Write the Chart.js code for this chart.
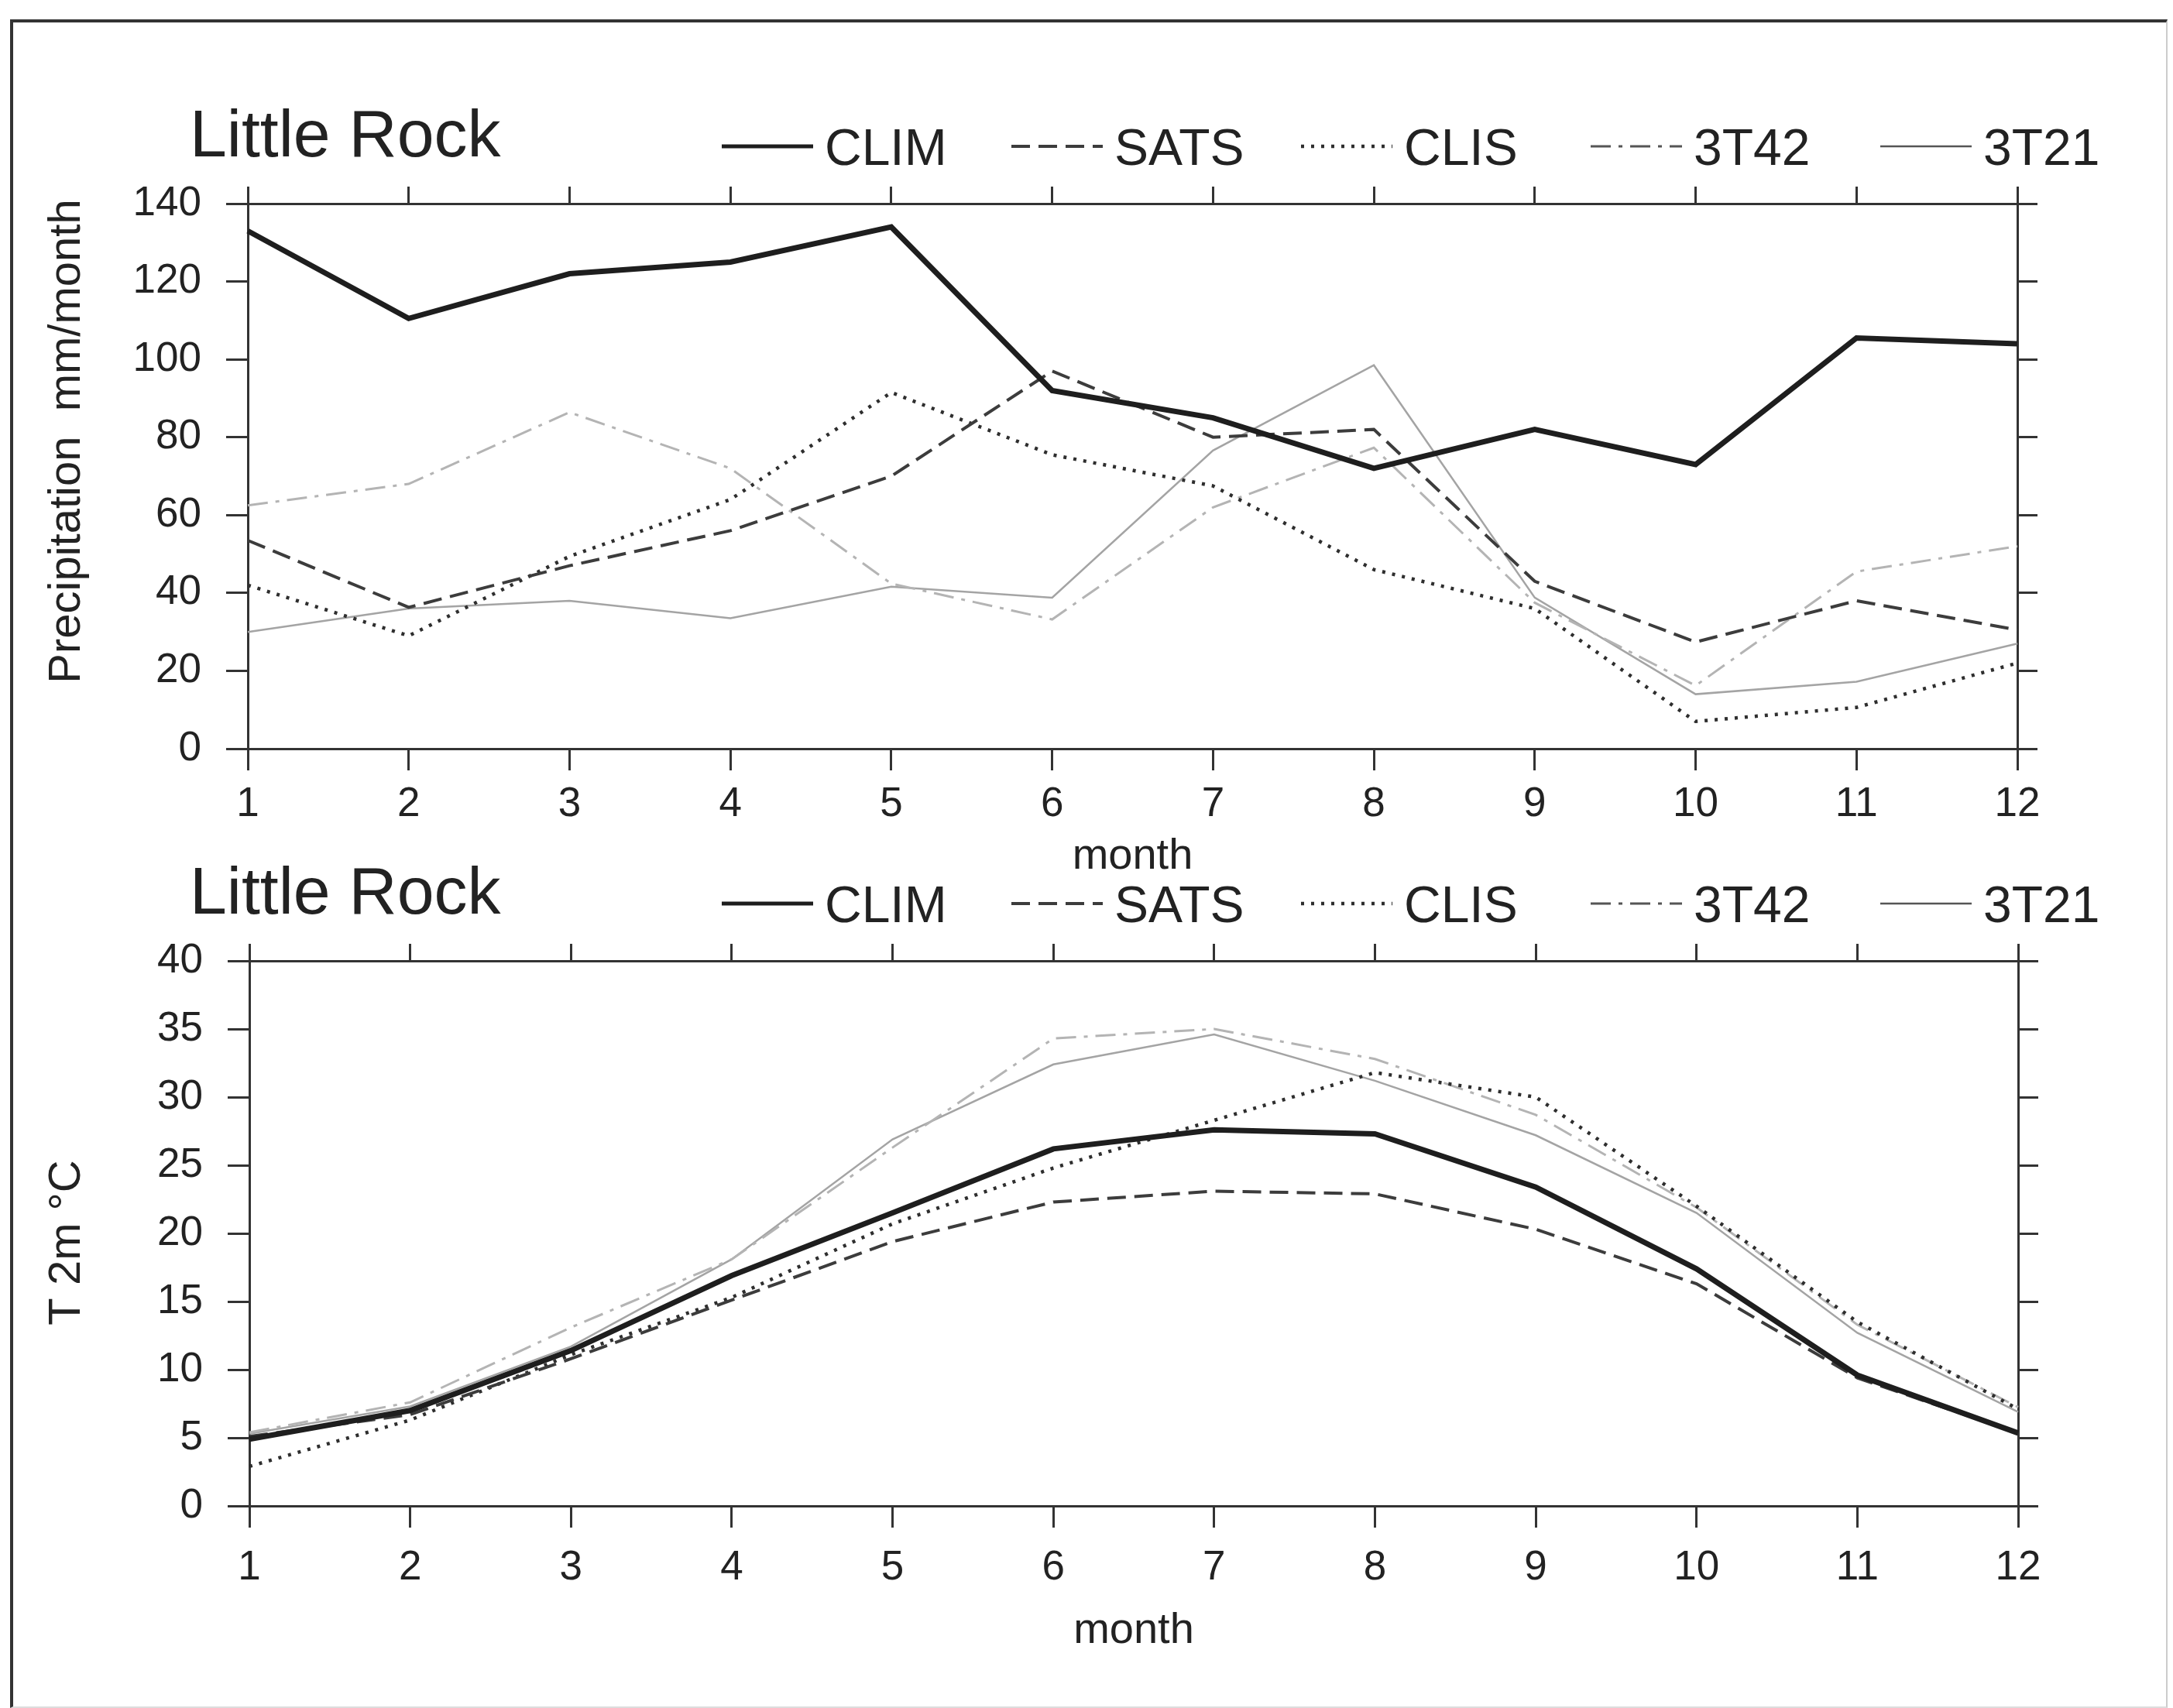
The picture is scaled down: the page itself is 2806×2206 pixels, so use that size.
<!DOCTYPE html>
<html>
<head>
<meta charset="utf-8">
<script src="https://cdn.jsdelivr.net/npm/chart.js@4.4.1/dist/chart.umd.min.js"></script>
<style>
  html, body { margin: 0; padding: 0; background: #fff; }
  #page { position: relative; width: 2806px; height: 2206px; overflow: hidden; }
  #frame { position: absolute; left: 13px; top: 25px; width: 2780px; height: 2175px;
           border-left: 4px solid #333; border-top: 4px solid #333;
           border-right: 2px solid #ccc; border-bottom: 2px solid #ddd; }
  canvas { position: absolute; left: 0; }
</style>
</head>
<body>
<div id="page">
  <div id="frame"></div>
  <canvas id="canvasPrec" width="2806" height="1150" style="top:0px"></canvas>
  <canvas id="canvasTemp" width="2806" height="1106" style="top:1100px"></canvas>
</div>
<script>
// months on the x axis
var months = ['1','2','3','4','5','6','7','8','9','10','11','12'];
var seriesNames = ['CLIM', 'SATS', 'CLIS', '3T42', '3T21'];

// precipitation, mm/month
var precCLIM = [133, 110.5, 122, 125, 134, 92, 85, 72, 82, 73, 105.5, 104];
var precSATS = [53.5, 36.3, 47, 56, 70, 97, 80, 82, 43, 27.4, 38, 30.5];
var precCLIS = [42, 29, 49.4, 64, 91.5, 75.5, 67.5, 46, 36, 7, 10.6, 22];
var prec3T42 = [62.5, 68, 86.4, 72, 42.4, 33.2, 62, 77.3, 37.5, 16.2, 45.5, 52];
var prec3T21 = [30, 36, 38, 33.5, 41.6, 38.8, 76.6, 98.5, 38.8, 14, 17.2, 27];

// 2m temperature, deg C
var tempCLIM = [4.9, 7.0, 11.4, 16.9, 21.5, 26.2, 27.6, 27.3, 23.4, 17.4, 9.6, 5.35];
var tempSATS = [5.1, 6.7, 10.8, 15.1, 19.4, 22.3, 23.1, 22.9, 20.3, 16.3, 9.4, 5.35];
var tempCLIS = [2.9, 6.3, 11.1, 15.3, 20.7, 24.8, 28.3, 31.8, 30, 22, 13.5, 7.1];
var temp3T42 = [5.4, 7.6, 13.1, 18.1, 26.3, 34.3, 35, 32.8, 28.7, 21.9, 13.3, 7.25];
var temp3T21 = [5.3, 7.3, 11.7, 18.1, 26.9, 32.4, 34.6, 31.2, 27.2, 21.5, 12.7, 6.9];

var FONT = '"Liberation Sans", Arial, Helvetica, sans-serif';
Chart.defaults.font.family = FONT;

// line look of each series: colour, width, dash, legend colour
var lineStyles = [
  { color: '#1e1e1e', width: 7,   dash: [],              legend: '#1e1e1e' },
  { color: '#3c3c3c', width: 4,   dash: [24, 11],        legend: '#3c3c3c' },
  { color: '#2e2e2e', width: 4.5, dash: [4, 9],          legend: '#2e2e2e' },
  { color: '#b4b4b4', width: 3,   dash: [26, 10, 5, 10], legend: '#555555' },
  { color: '#a4a4a4', width: 2.5, dash: [],              legend: '#555555' }
];

function makeDatasets(seriesValues)
{
  var out = [];
  for (var i = 0; i < seriesValues.length; i++)
  {
    var st = lineStyles[i];
    out.push({
      label: seriesNames[i],
      data: seriesValues[i],
      borderColor: st.color,
      borderWidth: st.width,
      borderDash: st.dash,
      legendColor: st.legend,
      pointRadius: 0,
      tension: 0,
      fill: false
    });
  }
  return out;
}

// title "Little Rock", the y axis title and the line legend
var headerPlugin = {
  id: 'header',
  afterDraw: function(chart, args, opts) {
    var ctx = chart.ctx;
    var area = chart.chartArea;
    var top = area.top;
    ctx.save();
    ctx.fillStyle = '#222';
    ctx.textBaseline = 'alphabetic';
    ctx.font = '86px ' + FONT;
    ctx.fillText('Little Rock', 245, top - 61);

    // rotated y axis title, sits a little off the plot centre as in the original
    ctx.save();
    ctx.translate(87, (area.top + area.bottom) / 2 + opts.yTitleShift);
    ctx.rotate(-Math.PI / 2);
    ctx.font = '58px ' + FONT;
    ctx.textAlign = 'center';
    ctx.textBaseline = 'middle';
    ctx.fillText(opts.yTitle, 0, 0);
    ctx.restore();

    var lineY = top - 74;
    chart.data.datasets.forEach(function(ds, i) {
      var x0 = 932 + i * 374;
      ctx.strokeStyle = ds.legendColor;
      ctx.lineWidth = Math.min(ds.borderWidth, 5);
      ctx.setLineDash(ds.borderDash);
      ctx.beginPath();
      ctx.moveTo(x0, lineY);
      ctx.lineTo(x0 + 118, lineY);
      ctx.stroke();
      ctx.setLineDash([]);
      ctx.font = '66px ' + FONT;
      ctx.fillText(ds.label, x0 + 133, lineY + 24);
    });
    ctx.restore();
  }
};

function createLineChart(canvasId, datasets, yMax, yStep, yTitle, box)
{
  var ctx = document.getElementById(canvasId).getContext('2d');
  var canvasH = ctx.canvas.height;
  var axisColor = '#333';
  var tickFont = { size: 53, family: FONT };
  var titleFont = { size: 56, family: FONT, lineHeight: 1 };

  return new Chart(ctx, {
    type: 'line',
    data: { labels: months, datasets: datasets },
    plugins: [headerPlugin],
    options: {
      responsive: false,
      animation: false,
      layout: { padding: 0 },
      plugins: {
        legend: { display: false },
        tooltip: { enabled: false },
        header: { yTitle: yTitle, yTitleShift: box.yTitleShift }
      },
      scales: {
        x: {
          type: 'category', position: 'bottom', offset: false,
          grid: { drawOnChartArea: false, tickLength: 28, color: axisColor, lineWidth: 3 },
          border: { color: axisColor, width: 3 },
          ticks: { font: tickFont, color: '#222', padding: box.xPad, maxRotation: 0, autoSkip: false },
          title: { display: true, text: 'month', font: titleFont, color: '#222', padding: { top: 0, bottom: box.monthPad } },
          afterFit: function(s) { s.height = canvasH - box.bottom; }
        },
        xTop: {
          type: 'category', position: 'top', offset: false,
          grid: { drawOnChartArea: false, tickLength: 22, color: axisColor, lineWidth: 3 },
          border: { color: axisColor, width: 3 },
          ticks: { display: false },
          afterFit: function(s) { s.height = box.top; }
        },
        y: {
          position: 'left', min: 0, max: yMax,
          grid: { drawOnChartArea: false, tickLength: 28, color: axisColor, lineWidth: 3 },
          border: { color: axisColor, width: 3 },
          ticks: { stepSize: yStep, font: tickFont, color: '#222', padding: 32 },
          afterFit: function(s) { s.width = box.left; }
        },
        yRight: {
          position: 'right', min: 0, max: yMax,
          grid: { drawOnChartArea: false, tickLength: 26, color: axisColor, lineWidth: 3 },
          border: { color: axisColor, width: 3 },
          ticks: { stepSize: yStep, display: false },
          afterFit: function(s) { s.width = 2806 - box.right; }
        }
      }
    }
  });
}

createLineChart('canvasPrec',
  makeDatasets([precCLIM, precSATS, precCLIS, prec3T42, prec3T21]),
  140, 20, 'Precipitation  mm/month',
  { left: 320, right: 2605, top: 263, bottom: 967, xPad: 13, monthPad: 15, yTitleShift: -45 });

createLineChart('canvasTemp',
  makeDatasets([tempCLIM, tempSATS, tempCLIS, temp3T42, temp3T21]),
  40, 5, 'T 2m \u00B0C',
  { left: 322, right: 2606, top: 141, bottom: 845, xPad: 21, monthPad: 71, yTitleShift: 12 });
</script>
</body>
</html>
